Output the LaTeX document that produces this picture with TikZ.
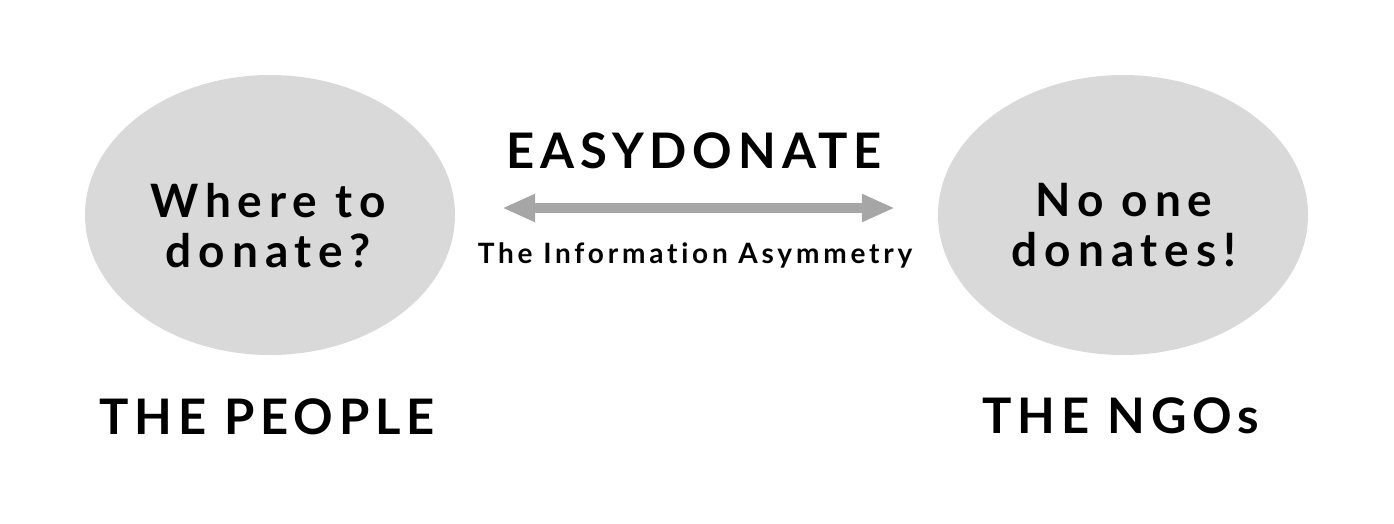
\documentclass[tikz,border=0pt]{standalone}
\usepackage{fontspec}
\setmainfont{Lato}[UprightFont=* Bold]
\newfontfamily\headfont{Lato}[UprightFont=* Bold,LetterSpace=12]
\newfontfamily\bubblefont{Lato}[UprightFont=* Bold,LetterSpace=15]
\newfontfamily\notefont{Lato}[UprightFont=* Bold,LetterSpace=13.5,Ligatures=NoCommon]
\usetikzlibrary{arrows.meta,shapes.geometric}
\definecolor{bubblegray}{HTML}{D9D9D9}
\definecolor{arrowgray}{HTML}{A6A6A6}

\begin{document}
\begin{tikzpicture}[x=1pt,y=-1pt,
  bubble/.style={ellipse,fill=bubblegray,minimum width=370pt,minimum height=280pt,inner sep=0pt},
  bubbletext/.style={font=\bubblefont\fontsize{46}{50}\selectfont,align=center,inner sep=0pt},
  heading/.style={font=\headfont\fontsize{49}{55}\selectfont,inner sep=0pt,anchor=base},
  gap/.style={line width=10pt,draw=arrowgray,{Triangle[length=33pt,width=26pt]}-{Triangle[length=33pt,width=26pt]}}]
  \useasboundingbox (0,0) rectangle (1394,523);
  \node[bubble] (people) at (270,215) {};
  \node[bubble] (ngos) at (1123,215) {};
  \node[bubbletext] (peopletext) at (268,225.5) {Where to\\donate?};
  \node[bubbletext] (ngostext) at (1124,225.5) {No one\\donates!};
  \draw[gap,shorten <=47pt,shorten >=43pt] ([yshift=7pt]people.east) -- ([yshift=7pt]ngos.west);
  \node[heading] (brand) at (694,168) {EASYDONATE};
  \node[font=\notefont\fontsize{28}{32}\selectfont,inner sep=0pt,anchor=base] (asym) at (695,263) {The Information Asymmetry};
  \node[heading] (peoplelabel) at (267,434) {THE PEOPLE};
  \node[heading] (ngolabel) at (1121,433) {THE NGOs};
\end{tikzpicture}
\end{document}
